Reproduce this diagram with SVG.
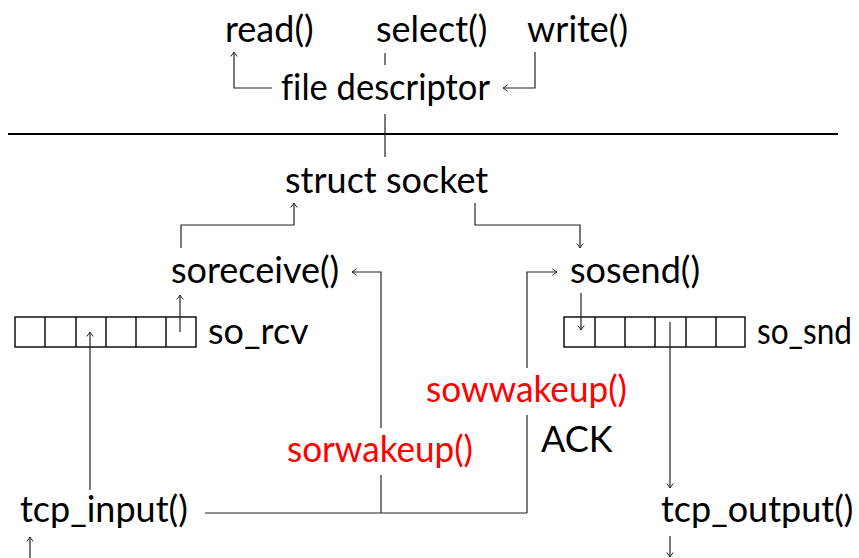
<svg xmlns="http://www.w3.org/2000/svg" width="859" height="558" viewBox="0 0 859 558">
  <style>
    text { font-family: Lato, "Open Sans", sans-serif; font-size: 36px; fill: #000; font-variant-ligatures: none; }
    .wake { fill: #ff0000; }
    .conn { fill: none; stroke: #222; stroke-width: 1.2; }
    .arrow { marker-end: url(#tip); }
    .buf rect { fill: none; stroke: #000; stroke-width: 1.4; }
    .buf line { stroke: #000; stroke-width: 1.4; }
  </style>
  <defs>
    <marker id="tip" markerUnits="userSpaceOnUse" viewBox="-6 -5 8 10" refX="0" refY="0" markerWidth="8" markerHeight="10" orient="auto">
      <path d="M -4.5 -3.2 Q -1.2 -0.6 0 0 Q -1.2 0.6 -4.5 3.2" fill="none" stroke="#222" stroke-width="1"/>
    </marker>
  </defs>

  <!-- system calls above the descriptor -->
  <g id="read"><text x="225" y="42">read()</text></g>
  <g id="select"><text x="376" y="42">select()</text></g>
  <g id="write"><text x="527" y="42">write()</text></g>
  <g id="fd"><text x="281" y="100" textLength="209" lengthAdjust="spacingAndGlyphs">file descriptor</text></g>

  <!-- user / kernel boundary -->
  <line x1="8" y1="134" x2="838" y2="134" stroke="#000" stroke-width="2"/>

  <g id="socket"><text x="285" y="193">struct socket</text></g>
  <g id="soreceive"><text x="171" y="283">soreceive()</text></g>
  <g id="sosend"><text x="570" y="283">sosend()</text></g>

  <!-- receive buffer -->
  <g id="so_rcv" class="buf">
    <rect x="15" y="317" width="181" height="30"/>
    <line x1="45" y1="317" x2="45" y2="347"/>
    <line x1="76" y1="317" x2="76" y2="347"/>
    <line x1="106" y1="317" x2="106" y2="347"/>
    <line x1="136" y1="317" x2="136" y2="347"/>
    <line x1="166" y1="317" x2="166" y2="347"/>
    <text x="208" y="344">so_rcv</text>
  </g>

  <!-- send buffer -->
  <g id="so_snd" class="buf">
    <rect x="564" y="317" width="181" height="30"/>
    <line x1="595" y1="317" x2="595" y2="347"/>
    <line x1="625" y1="317" x2="625" y2="347"/>
    <line x1="655" y1="317" x2="655" y2="347"/>
    <line x1="686" y1="317" x2="686" y2="347"/>
    <line x1="716" y1="317" x2="716" y2="347"/>
    <text x="757" y="344" textLength="95" lengthAdjust="spacingAndGlyphs">so_snd</text>
  </g>

  <g id="sowwakeup"><text class="wake" x="426" y="402" textLength="201" lengthAdjust="spacingAndGlyphs">sowwakeup()</text></g>
  <g id="ack"><text x="541" y="452">ACK</text></g>
  <g id="sorwakeup"><text class="wake" x="287" y="462" textLength="186" lengthAdjust="spacingAndGlyphs">sorwakeup()</text></g>
  <g id="tcp_input"><text x="20" y="522">tcp_input()</text></g>
  <g id="tcp_output"><text x="661" y="522">tcp_output()</text></g>

  <g id="connectors">
    <path class="conn arrow" d="M 272 88 H 234 V 52"/>
    <path class="conn arrow" d="M 535 52 V 88 H 503"/>
    <path class="conn" d="M 385 53 V 65"/>
    <path class="conn" d="M 385 114 V 157"/>
    <path class="conn arrow" d="M 181 248 V 225 H 294 V 203"/>
    <path class="conn arrow" d="M 475 203 V 225 H 580 V 248"/>
    <path class="conn arrow" d="M 180 332 V 295"/>
    <path class="conn arrow" d="M 90 490 V 332"/>
    <path class="conn" d="M 205 513 H 527"/>
    <path class="conn" d="M 381 513 V 475"/>
    <path class="conn arrow" d="M 381 428 V 272 H 352"/>
    <path class="conn" d="M 527 513 V 415"/>
    <path class="conn arrow" d="M 527 368 V 272 H 557"/>
    <path class="conn arrow" d="M 581 293 V 330"/>
    <path class="conn arrow" d="M 670 322 V 488"/>
    <path class="conn arrow" d="M 670 536 V 557"/>
    <path class="conn arrow" d="M 30 558 V 537"/>
  </g>
</svg>
